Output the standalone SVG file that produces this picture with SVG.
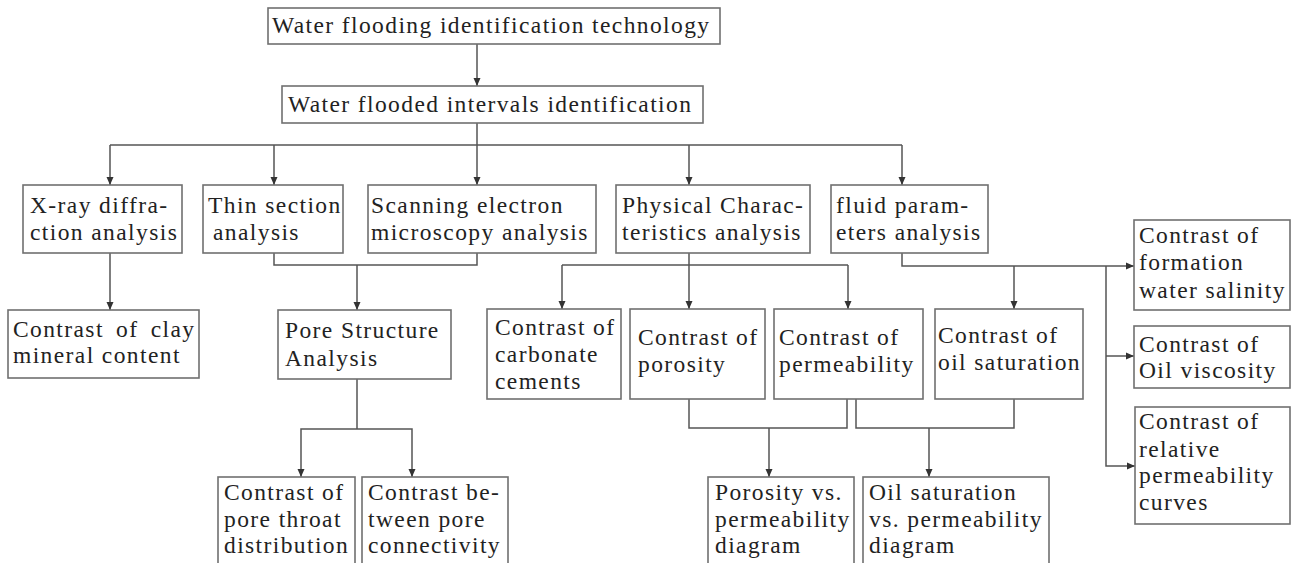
<svg xmlns="http://www.w3.org/2000/svg" width="1293" height="563" viewBox="0 0 1293 563">
<defs>
<marker id="ah" markerUnits="userSpaceOnUse" markerWidth="9" markerHeight="8" refX="8" refY="4" orient="auto">
<path d="M0,0.5 L8,4 L0,7.5 z" fill="#333"/>
</marker>
<style>
.box{fill:#fff;stroke:#707070;stroke-width:1.6}
.t{font-family:"Liberation Serif","Times New Roman",serif;font-size:23.5px;letter-spacing:1.4px;fill:#222}
.c{fill:none;stroke:#555;stroke-width:1.5}
.a{marker-end:url(#ah)}
</style>
</defs>
<rect width="1293" height="563" fill="#fff"/>
<g id="connectors">
<path class="c a" d="M477,44 V86"/>
<path class="c" d="M110,145 H902"/>
<path class="c a" d="M477,123 V185"/>
<path class="c a" d="M110,145 V185"/>
<path class="c a" d="M274,145 V185"/>
<path class="c a" d="M689,145 V185"/>
<path class="c a" d="M902,145 V185"/>
<path class="c a" d="M110,253 V310"/>
<path class="c" d="M274,253 V265 H477 V253"/>
<path class="c a" d="M357,265 V310"/>
<path class="c" d="M357,379 V429"/>
<path class="c a" d="M357,429 H301 V477"/>
<path class="c a" d="M357,429 H412 V477"/>
<path class="c" d="M562,265 H848"/>
<path class="c a" d="M689,253 V309"/>
<path class="c a" d="M562,265 V309"/>
<path class="c a" d="M848,265 V309"/>
<path class="c a" d="M902,253 V266 H1134"/>
<path class="c a" d="M1014,266 V309"/>
<path class="c a" d="M1106,266 V466 H1135"/>
<path class="c a" d="M1106,356 H1134"/>
<path class="c" d="M689,399 V428 H847 V399"/>
<path class="c a" d="M769,428 V477"/>
<path class="c" d="M856,399 V428 H1014 V399"/>
<path class="c a" d="M929,428 V477"/>
</g>
<g id="n_top"><rect class="box" x="268" y="8" width="452" height="36"/><text class="t" x="272" y="33">Water flooding identification technology</text></g>
<g id="n_intervals"><rect class="box" x="282" y="86" width="421" height="37"/><text class="t" x="288" y="112">Water flooded intervals identification</text></g>
<g id="n_xray"><rect class="box" x="23" y="185" width="159" height="68"/><text class="t" x="30" y="213">X-ray diffra-</text><text class="t" x="30" y="240">ction analysis</text></g>
<g id="n_thin"><rect class="box" x="203" y="185" width="140" height="68"/><text class="t" x="208" y="213">Thin section</text><text class="t" x="213" y="240">analysis</text></g>
<g id="n_sem"><rect class="box" x="368" y="185" width="228" height="68"/><text class="t" x="371" y="213">Scanning electron</text><text class="t" x="371" y="240">microscopy analysis</text></g>
<g id="n_phys"><rect class="box" x="616" y="185" width="194" height="68"/><text class="t" x="622" y="213">Physical Charac-</text><text class="t" x="622" y="240">teristics analysis</text></g>
<g id="n_fluid"><rect class="box" x="831" y="185" width="157" height="68"/><text class="t" x="836" y="213">fluid param-</text><text class="t" x="836" y="240">eters analysis</text></g>
<g id="n_clay"><rect class="box" x="8" y="310" width="191" height="68"/><text class="t" x="13" y="337" style="word-spacing:5px">Contrast of clay</text><text class="t" x="13" y="363">mineral content</text></g>
<g id="n_pore"><rect class="box" x="278" y="310" width="173" height="69"/><text class="t" x="285" y="338">Pore Structure</text><text class="t" x="285" y="366">Analysis</text></g>
<g id="n_carb"><rect class="box" x="487" y="309" width="134" height="90"/><text class="t" x="495" y="335">Contrast of</text><text class="t" x="495" y="362">carbonate</text><text class="t" x="495" y="389">cements</text></g>
<g id="n_poro"><rect class="box" x="630" y="309" width="135" height="90"/><text class="t" x="638" y="345">Contrast of</text><text class="t" x="638" y="372">porosity</text></g>
<g id="n_perm"><rect class="box" x="774" y="309" width="149" height="90"/><text class="t" x="779" y="345">Contrast of</text><text class="t" x="779" y="372">permeability</text></g>
<g id="n_oilsat"><rect class="box" x="935" y="309" width="148" height="90"/><text class="t" x="938" y="343">Contrast of</text><text class="t" x="938" y="370">oil saturation</text></g>
<g id="n_salinity"><rect class="box" x="1134" y="220" width="156" height="90"/><text class="t" x="1139" y="243">Contrast of</text><text class="t" x="1139" y="270">formation</text><text class="t" x="1139" y="298">water salinity</text></g>
<g id="n_visc"><rect class="box" x="1134" y="326" width="156" height="62"/><text class="t" x="1139" y="352">Contrast of</text><text class="t" x="1139" y="378">Oil viscosity</text></g>
<g id="n_relperm"><rect class="box" x="1135" y="407" width="155" height="117"/><text class="t" x="1139" y="429">Contrast of</text><text class="t" x="1139" y="457">relative</text><text class="t" x="1139" y="483">permeability</text><text class="t" x="1139" y="510">curves</text></g>
<g id="n_throat"><rect class="box" x="218" y="477" width="137" height="100"/><text class="t" x="224" y="500">Contrast of</text><text class="t" x="224" y="527">pore throat</text><text class="t" x="224" y="553">distribution</text></g>
<g id="n_conn"><rect class="box" x="362" y="477" width="146" height="100"/><text class="t" x="368" y="500">Contrast be-</text><text class="t" x="368" y="527">tween pore</text><text class="t" x="368" y="553">connectivity</text></g>
<g id="n_poroperm"><rect class="box" x="708" y="477" width="146" height="100"/><text class="t" x="715" y="500">Porosity vs.</text><text class="t" x="715" y="527">permeability</text><text class="t" x="715" y="553">diagram</text></g>
<g id="n_oilperm"><rect class="box" x="863" y="477" width="186" height="100"/><text class="t" x="869" y="500">Oil saturation</text><text class="t" x="869" y="527">vs. permeability</text><text class="t" x="869" y="553">diagram</text></g>
</svg>
